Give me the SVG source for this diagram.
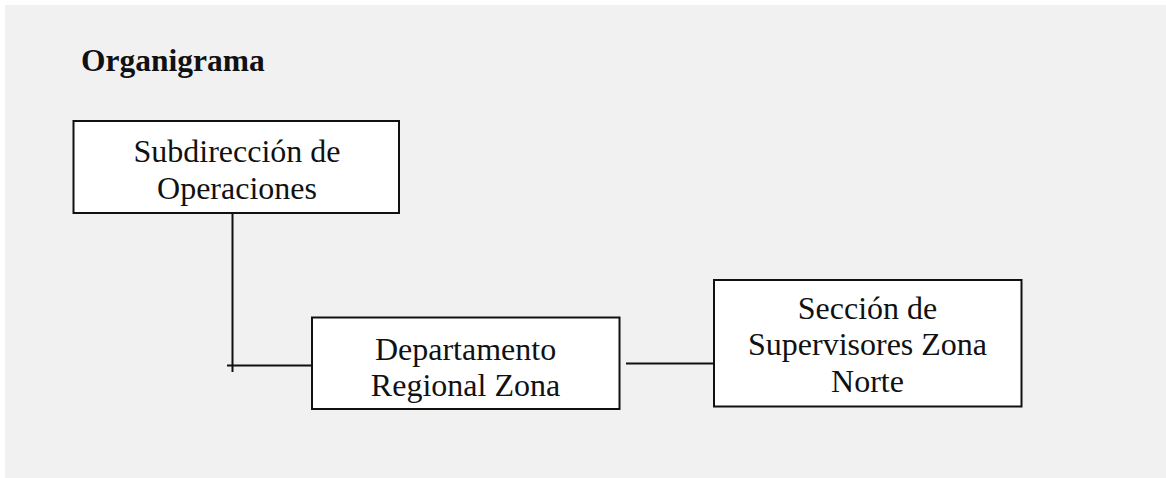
<svg xmlns="http://www.w3.org/2000/svg" width="1166" height="478" viewBox="0 0 1166 478">
<style>
.box{fill:#ffffff;stroke:#111111;stroke-width:2}
.t{font-family:"Liberation Serif","Times New Roman",serif;font-size:32px;fill:#111111;text-anchor:middle}
.title{font-family:"Liberation Serif","Times New Roman",serif;font-size:31.5px;font-weight:bold;fill:#111111}
.c{stroke:#111111;stroke-width:2;fill:none}
</style>
<rect x="5" y="5" width="1161" height="473" fill="#f1f1f1"/>
<text class="title" x="81" y="71">Organigrama</text>
<g id="connectors">
<line class="c" x1="232.5" y1="213" x2="232.5" y2="372"/>
<line class="c" x1="227" y1="365.5" x2="312" y2="365.5"/>
<line class="c" x1="626" y1="363.5" x2="714" y2="363.5"/>
</g>
<g id="subdireccion">
<rect class="box" x="73.5" y="121" width="325.5" height="92"/>
<text class="t" x="237" y="162">Subdirección de</text>
<text class="t" x="237" y="198.5">Operaciones</text>
</g>
<g id="departamento">
<rect class="box" x="312" y="317.5" width="307.5" height="91.5"/>
<text class="t" x="465.5" y="359.5">Departamento</text>
<text class="t" x="465.5" y="396">Regional Zona</text>
</g>
<g id="seccion">
<rect class="box" x="714" y="280" width="307.5" height="126.5"/>
<text class="t" x="867.5" y="318.5">Sección de</text>
<text class="t" x="867.5" y="355">Supervisores Zona</text>
<text class="t" x="867.5" y="391.5">Norte</text>
</g>
</svg>
